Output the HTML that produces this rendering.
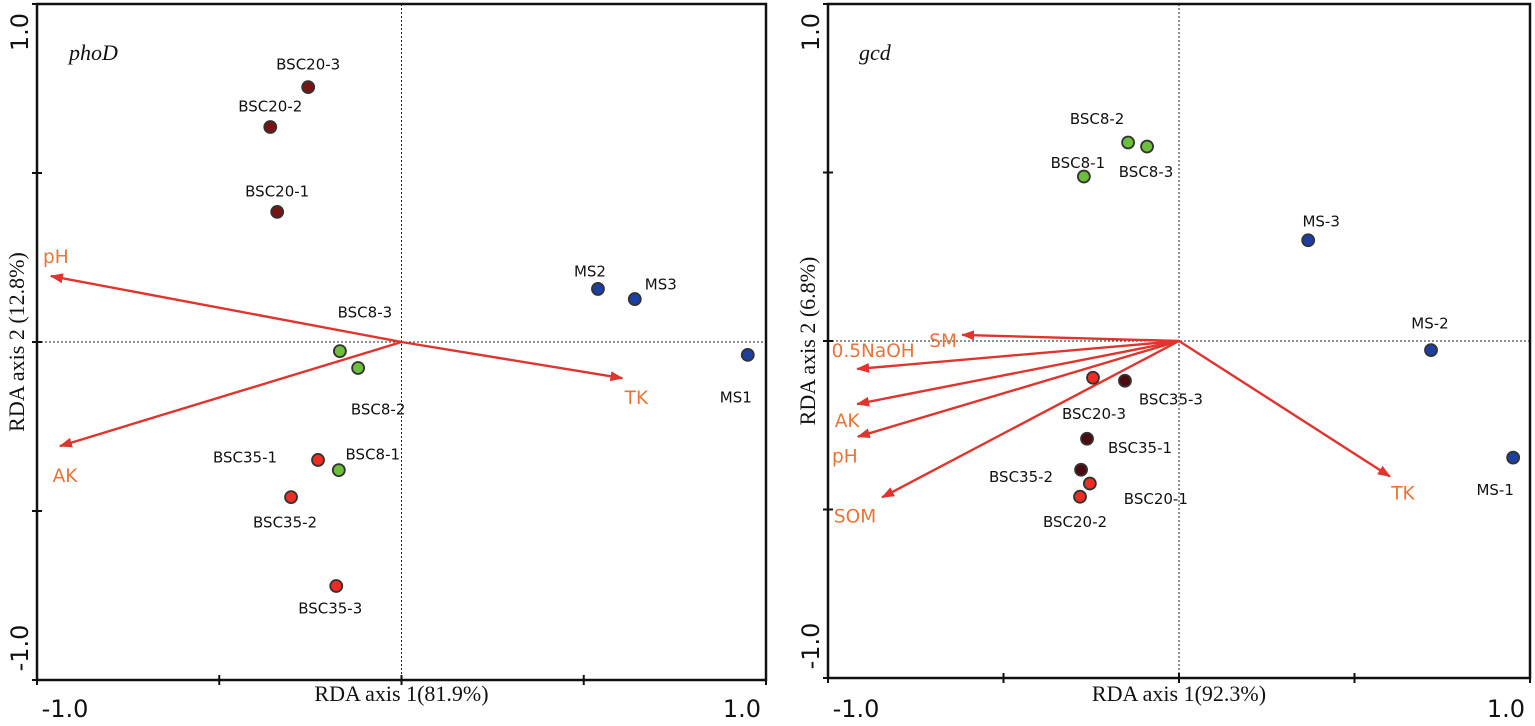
<!DOCTYPE html>
<html><head><meta charset="utf-8"><style>
html,body{margin:0;padding:0;background:#fff;}
svg{display:block;}
.lab{font-family:"DejaVu Sans","Liberation Sans",sans-serif;font-size:15px;fill:#111;}
.env{font-family:"DejaVu Sans","Liberation Sans",sans-serif;font-size:18.5px;fill:#e8743a;}
.tick{font-family:"DejaVu Sans","Liberation Sans",sans-serif;font-size:24px;fill:#111;}
.ttl{font-family:"Liberation Serif",serif;font-size:22px;fill:#111;}
</style></head><body>
<svg id="chart" width="1535" height="726" viewBox="0 0 1535 726" xmlns="http://www.w3.org/2000/svg">
<defs><marker id="ah" markerWidth="13" markerHeight="10" refX="12" refY="5" orient="auto" markerUnits="userSpaceOnUse"><path d="M0,0 L13,5 L0,10 Z" fill="#e0352f"/></marker></defs>
</svg>
<script>
// ---- phoD panel data ----
const phoNames = ["BSC20-3","BSC20-2","BSC20-1","BSC8-3","BSC8-2","BSC8-1","BSC35-1","BSC35-2","BSC35-3","MS2","MS3","MS1"];
const phoX = [-0.256,-0.360,-0.341,-0.169,-0.119,-0.172,-0.229,-0.303,-0.179,0.539,0.640,0.950];
const phoY = [0.754,0.636,0.385,-0.027,-0.077,-0.379,-0.349,-0.459,-0.722,0.157,0.127,-0.038];
const phoGroup = ["b20","b20","b20","b8","b8","b8","b35","b35","b35","ms","ms","ms"];
const phoEnvNames = ["pH","TK","AK"];
const phoEnvX = [-0.962,0.606,-0.937];
const phoEnvY = [0.195,-0.107,-0.308];
// ---- gcd panel data ----
const gcdNames = ["BSC8-2","BSC8-3","BSC8-1","MS-3","MS-2","MS-1","BSC20-3","BSC35-3","BSC35-1","BSC35-2","BSC20-1","BSC20-2"];
const gcdX = [-0.145,-0.091,-0.271,0.368,0.718,0.952,-0.245,-0.154,-0.262,-0.279,-0.254,-0.282];
const gcdY = [0.589,0.577,0.488,0.299,-0.027,-0.346,-0.109,-0.118,-0.290,-0.382,-0.423,-0.462];
const gcdGroup = ["b8","b8","b8","ms","ms","ms","red","dark","dark","dark","red","red"];
const gcdEnvNames = ["SM","0.5NaOH","AK","pH","SOM","TK"];
const gcdEnvX = [-0.618,-0.917,-0.917,-0.915,-0.846,0.601];
const gcdEnvY = [0.018,-0.083,-0.187,-0.284,-0.464,-0.402];

const colors={b20:"#7a1414",b8:"#6bbf3a",b35:"#ee2c23",ms:"#1d3fa3",red:"#ee2c23",dark:"#4a0c10"};
const svg=document.getElementById('chart');
const NS="http://www.w3.org/2000/svg";
function mk(tag,attrs,parent){const e=document.createElementNS(NS,tag);for(const k in attrs)e.setAttribute(k,attrs[k]);(parent||svg).appendChild(e);return e;}

// label offsets (layout only)
const phoLab=[[0,-22],[0,-20],[0,-20],[25,-38],[20,42],[34,-15],[-73,-2],[-6,26],[-6,23],[-8,-17],[26,-14],[-12,43]];
const gcdLab=[[-31,-23],[-1,26],[-6,-13],[13,-18],[-1,-26],[-18,33],[1,37],[46,19],[53,10],[-60,8],[66,16],[-5,26]];
const phoEnvLab=[[5,-18],[14,21],[5,31]];
const gcdEnvLab=[[-19,7],[16,-17],[-10,18],[-13,21],[-27,20],[13,18]];

function panel(o){
  const g=mk('g',{});
  
  
  const sx=v=>o.cx+v*o.hx, sy=v=>o.cy-v*o.hy;
  mk('line',{x1:o.x0,x2:o.x1,y1:o.cy,y2:o.cy,stroke:'#222','stroke-width':1,'stroke-dasharray':'2,2'},g);
  mk('line',{x1:o.cx,x2:o.cx,y1:o.y0,y2:o.y1,stroke:'#222','stroke-width':1,'stroke-dasharray':'2,2'},g);
  const f=mk('rect',{x:o.x0,y:o.y0,width:o.x1-o.x0,height:o.y1-o.y0,fill:'none',stroke:'#111','stroke-width':2.5},g);
  
  
  [-1,-0.5,0,0.5,1].forEach(t=>{
    mk('line',{x1:sx(t),x2:sx(t),y1:o.y1-5,y2:o.y1+5,stroke:'#111','stroke-width':2},g);
    mk('line',{x1:o.x0-5,x2:o.x0+5,y1:sy(t),y2:sy(t),stroke:'#111','stroke-width':2},g);
  });
  const tl=(txt,x,y,rot,name)=>{const t=mk('text',{x:x,y:y,class:'tick','text-anchor':'middle',transform:rot?`rotate(-90 ${x} ${y})`:''},g);t.textContent=txt;};
  tl('-1.0',o.x0+28,717,false,o.key+'-x-tick-min');
  tl('1.0',o.x1-24,717,false,o.key+'-x-tick-max');
  tl('1.0',o.x0-9,sy(1)+28,true,o.key+'-y-tick-max');
  tl('-1.0',o.x0-9,sy(-1)-32,true,o.key+'-y-tick-min');
  let t=mk('text',{x:o.cx,y:701,class:'ttl','text-anchor':'middle'},g);t.textContent=o.xt;
  
  t=mk('text',{x:o.x0-13,y:o.cy,class:'ttl','text-anchor':'middle',transform:`rotate(-90 ${o.x0-13} ${o.cy})`},g);t.textContent=o.yt;
  
  t=mk('text',{x:o.x0+o.titleDx,y:60,'font-family':'"Liberation Serif",serif','font-style':'italic','font-size':'22px',fill:'#111'},g);t.textContent=o.title;
  
  o.envNames.forEach((n,i)=>{
    const l=mk('line',{x1:sx(0),y1:sy(0),x2:sx(o.envX[i]),y2:sy(o.envY[i]),stroke:'#e0352f','stroke-width':2.4,'marker-end':'url(#ah)'},g);
    
    
    const tx=mk('text',{x:sx(o.envX[i])+o.envLab[i][0],y:sy(o.envY[i])+o.envLab[i][1],class:'env','text-anchor':'middle','dominant-baseline':'middle'},g);tx.textContent=n;
    
    
  });
  o.names.forEach((n,i)=>{
    const c=mk('circle',{cx:sx(o.px[i]),cy:sy(o.py[i]),r:6,fill:colors[o.grp[i]],stroke:'#333','stroke-width':1.8},g);
    
    
    const tx=mk('text',{x:sx(o.px[i])+o.lab[i][0],y:sy(o.py[i])+o.lab[i][1],class:'lab','text-anchor':'middle','dominant-baseline':'middle'},g);tx.textContent=n;
    
    
  });
}
panel({key:'phod',x0:37,x1:766,y0:4,y1:680,cx:401.5,cy:342,hx:364.5,hy:338,title:'phoD',titleDx:32,
  xt:'RDA axis 1(81.9%)',yt:'RDA axis 2 (12.8%)',names:phoNames,px:phoX,py:phoY,grp:phoGroup,lab:phoLab,
  envNames:phoEnvNames,envX:phoEnvX,envY:phoEnvY,envLab:phoEnvLab});
panel({key:'gcd',x0:828,x1:1530,y0:4,y1:678,cx:1179,cy:341,hx:351,hy:337,title:'gcd',titleDx:31,
  xt:'RDA axis 1(92.3%)',yt:'RDA axis 2 (6.8%)',names:gcdNames,px:gcdX,py:gcdY,grp:gcdGroup,lab:gcdLab,
  envNames:gcdEnvNames,envX:gcdEnvX,envY:gcdEnvY,envLab:gcdEnvLab});
</script>
</body></html>
